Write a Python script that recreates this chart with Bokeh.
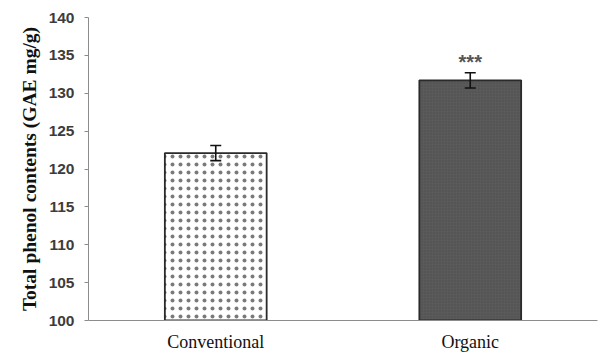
from bokeh.plotting import figure
from bokeh.models import ColumnDataSource, Whisker, TeeHead, Range1d, FactorRange
from bokeh.core.properties import value
from bokeh.embed import file_html
from bokeh.resources import INLINE

# Total phenol contents per farming system
categories = ["Conventional", "Organic"]
means = [122.1, 131.7]
errors = [1.0, 1.0]
significance = ["", "***"]
y_ticks = [100, 105, 110, 115, 120, 125, 130, 135, 140]

src = ColumnDataSource(data=dict(
    cat=categories,
    mean=means,
    lower=[m - e for m, e in zip(means, errors)],
    upper=[m + e for m, e in zip(means, errors)],
    sig=significance,
    fill=["white", "#5a5a5a"],
    hatch=["#7a7a7a", "#4c4c4c"],
    hscale=[8.0, 3.0],
))

p = figure(
    width=600, height=354,
    x_range=FactorRange(*categories, range_padding=0.0),
    y_range=Range1d(100, 140),
    output_backend="svg", toolbar_location=None,
    min_border_left=88, min_border_right=3,
    min_border_top=17, min_border_bottom=33,
)
p.outline_line_color = None
p.grid.grid_line_color = None
p.background_fill_color = "white"
p.border_fill_color = "white"

p.vbar(x="cat", top="mean", bottom=100, width=0.4, source=src,
       fill_color="fill", line_color="#2a2a2a", line_width=1.8,
       hatch_pattern="dot", hatch_color="hatch", hatch_scale="hscale",
       hatch_weight=0.6)

head = dict(size=11, line_width=1.6, line_color="#111111")
err = Whisker(base="cat", lower="lower", upper="upper", source=src,
              line_color="#111111", line_width=1.6, level="overlay",
              upper_head=TeeHead(**head), lower_head=TeeHead(**head))
p.add_layout(err)

p.text(x="cat", y="upper", text="sig", source=src,
       text_align="center", text_baseline="bottom", y_offset=0,
       text_font=value("Liberation Sans"), text_font_style="bold",
       text_font_size="20px", text_color="#555555")

# y axis
p.yaxis.ticker = y_ticks
p.yaxis.axis_label = "Total phenol contents (GAE mg/g)"
p.yaxis.axis_label_text_font = "Liberation Serif"
p.yaxis.axis_label_text_font_style = "bold"
p.yaxis.axis_label_text_font_size = "19.5px"
p.yaxis.axis_label_text_color = "#111111"
p.yaxis.axis_label_standoff = 6
p.yaxis.major_label_text_font = "Liberation Sans"
p.yaxis.major_label_text_font_style = "bold"
p.yaxis.major_label_text_font_size = "15.5px"
p.yaxis.major_label_text_color = "#3c3c3c"
p.yaxis.major_label_standoff = 10
p.yaxis.axis_line_color = "#8c8c8c"
p.yaxis.major_tick_line_color = "#8c8c8c"
p.yaxis.major_tick_in = 0
p.yaxis.major_tick_out = 4
p.yaxis.minor_tick_line_color = None

# x axis
p.xaxis.axis_line_color = "#8c8c8c"
p.xaxis.major_tick_line_color = None
p.xaxis.major_label_text_font = "Liberation Serif"
p.xaxis.major_label_text_font_size = "18px"
p.xaxis.major_label_text_color = "#111111"
p.xaxis.major_label_standoff = 5

open("out.html", "w").write(file_html(p, INLINE))
